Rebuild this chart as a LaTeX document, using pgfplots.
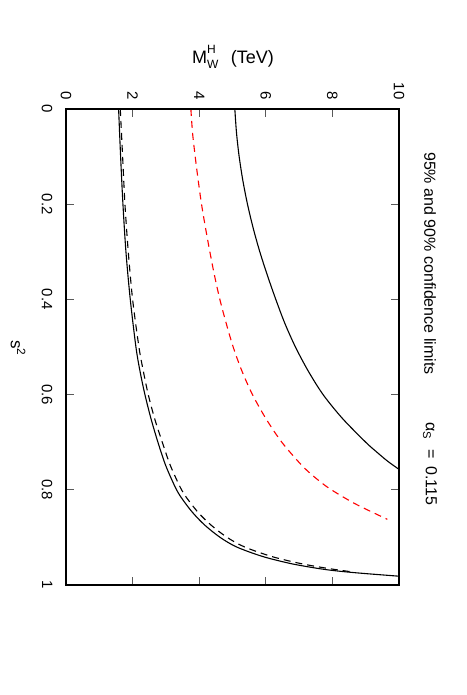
\documentclass[border=0pt]{standalone}
\usepackage{pgfplots}
\pgfplotsset{compat=1.18}
\usepackage{fontspec}
\setmainfont{Liberation Sans}
\begin{document}
\begin{tikzpicture}
\useasboundingbox (-66pt,-110pt) rectangle (400pt,585pt);
\begin{axis}[
  at={(0pt,0pt)}, anchor=south west,
  width=333pt, height=476pt, scale only axis,
  xmin=0, xmax=10, ymin=0, ymax=1,
  y dir=reverse,
  xtick={0,2,4,6,8,10},
  ytick={0,0.2,0.4,0.6,0.8,1},
  xticklabel pos=upper,
  yticklabel pos=left,
  /pgf/number format/assume math mode=true,
  xticklabel style={rotate=-90, anchor=east, font=\fontsize{15}{15}\selectfont},
  yticklabel style={rotate=-90, anchor=north, font=\fontsize{15}{15}\selectfont},
  xticklabel shift=6pt,
  yticklabel shift=10pt,
  major tick style={gray!70!black, line width=0.8pt},
  major tick length=8pt,
  axis line style={line width=1.6pt},
  axis on top,
]
% upper solid
\addplot[black, line width=1.1pt, smooth] coordinates {
(5.07,0) (5.12,0.05) (5.20,0.1) (5.31,0.15) (5.45,0.2) (5.62,0.25) (5.82,0.3)
(6.05,0.35) (6.30,0.4) (6.57,0.45) (6.89,0.5) (7.27,0.55) (7.72,0.6) (8.30,0.65)
(9.00,0.7) (9.32,0.72) (9.66,0.74) (10.0,0.757)};
% red dashed
\addplot[red, line width=1.1pt, dash pattern=on 7pt off 5pt, smooth] coordinates {
(3.75,0) (3.80,0.05) (3.88,0.1) (3.97,0.15) (4.07,0.2) (4.19,0.25) (4.32,0.3)
(4.46,0.35) (4.62,0.4) (4.81,0.45) (5.02,0.5) (5.28,0.55) (5.60,0.6) (6.00,0.65)
(6.48,0.7) (7.10,0.75) (7.58,0.78) (7.97,0.8) (8.70,0.83) (9.65,0.862)};
% lower solid
\addplot[black, line width=1.1pt, smooth] coordinates {
(1.58,0) (1.64,0.1) (1.71,0.2) (1.80,0.3) (1.93,0.4) (2.10,0.5) (2.22,0.55)
(2.37,0.6) (2.55,0.65) (2.76,0.7) (3.00,0.75) (3.32,0.8) (3.55,0.825) (3.83,0.85)
(4.18,0.875) (4.63,0.9) (5.12,0.92) (5.90,0.94) (6.75,0.955) (7.55,0.965)
(8.08,0.97) (8.82,0.975) (10.0,0.9815)};
% lower dashed
\addplot[black, line width=1.1pt, dash pattern=on 7pt off 5pt, smooth] coordinates {
(1.63,0) (1.70,0.1) (1.77,0.2) (1.87,0.3) (2.00,0.4) (2.19,0.5) (2.32,0.55)
(2.47,0.6) (2.66,0.65) (2.89,0.7) (3.14,0.75) (3.47,0.8) (3.71,0.825) (4.00,0.85)
(4.37,0.875) (4.84,0.9) (5.36,0.92) (6.17,0.94) (7.05,0.955) (7.85,0.965)
(8.55,0.972)};
\end{axis}
\node[font=\fontsize{18}{18}\selectfont, inner sep=0pt] at (167pt,528pt)
  {M\makebox[0pt][l]{\raisebox{0.55em}{\fontsize{12}{12}\selectfont H}}\raisebox{-0.3em}{\fontsize{12}{12}\selectfont W}\hspace{0.7em}(TeV)};
\node[font=\fontsize{17}{17}\selectfont, rotate=-90, inner sep=0pt] at (-48pt,237pt)
  {s\textsuperscript{2}};
\node[font=\fontsize{16}{16}\selectfont, rotate=-90, anchor=west, inner sep=0pt] at (364pt,433pt)
  {95\% and 90\% confidence limits};
\node[font=\fontsize{16}{16}\selectfont, rotate=-90, anchor=west, inner sep=0pt] at (364pt,163pt)
  {α\textsubscript{S}\hspace{0.6em}=\hspace{0.5em}0.115};
\end{tikzpicture}
\end{document}
